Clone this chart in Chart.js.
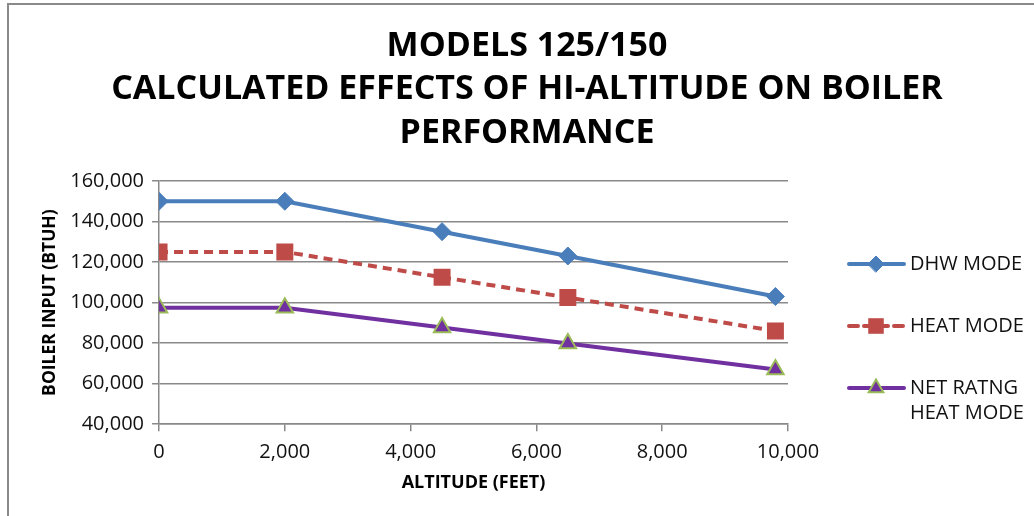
<!DOCTYPE html>
<html>
<head>
<meta charset="utf-8">
<title>Models 125/150 - boiler input vs altitude</title>
<script src="https://cdn.jsdelivr.net/npm/chart.js@4/dist/chart.umd.min.js"></script>
<style>
  html, body { margin: 0; padding: 0; background: #fff; }
  #wrap { width: 1034px; height: 516px; position: relative; }
</style>
</head>
<body>
<div id="wrap"><canvas id="altgraph" width="1034" height="516"></canvas></div>
<script>
// altitude in feet
var altitudeFt = [0, 2000, 4500, 6500, 9800];

// boiler input in BTUH
var dhwMode  = [150000, 150000, 135000, 123000, 103000];
var heatMode = [125000, 125000, 112500, 102500, 86000];
var netRatingHeatMode = [97500, 97500, 87750, 79800, 67000];

var seriesNames = [['DHW MODE'], ['HEAT MODE'], ['NET RATNG', 'HEAT MODE']];
var titleLines = ['MODELS 125/150', 'CALCULATED EFFECTS OF HI-ALTITUDE ON BOILER', 'PERFORMANCE'];

var yMin = 40000, yMax = 160000, yStep = 20000;
var xMin = 0, xMax = 10000, xStep = 2000;

var pts = function(ys) {
  return altitudeFt.map(function(x, i) { return { x: x, y: ys[i] }; });
};

var FONT = "'Open Sans', 'Liberation Sans', sans-serif";
var GRID = '#898989';

//grey frame on the left and top, like the worksheet object border
var framePlugin = {
  id: 'frame',
  beforeDraw: function(chart) {
    var ctx = chart.ctx;
    ctx.save();
    ctx.strokeStyle = '#8a8a8a';
    ctx.lineWidth = 2;
    ctx.beginPath();
    ctx.moveTo(8, chart.height);
    ctx.lineTo(8, 4);
    ctx.lineTo(chart.width, 4);
    ctx.stroke();
    ctx.restore();
  }
};

//title centred on the whole canvas, not just the plot box
var bigTitle = {
  id: 'bigTitle',
  afterDraw: function(chart) {
    var ctx = chart.ctx;
    ctx.save();
    ctx.fillStyle = '#000';
    ctx.font = 'bold 34px ' + FONT;
    ctx.textAlign = 'center';
    ctx.textBaseline = 'middle';
    titleLines.forEach(function(t, i) {
      ctx.fillText(t, 527, 46 + i * 43.5);
    });
    ctx.restore();
  }
};

//legend on the right, drawn by hand so the last entry can wrap
var sideLegend = {
  id: 'sideLegend',
  afterDraw: function(chart) {
    var ctx = chart.ctx;
    var rows = [264, 326, 388];
    ctx.save();
    chart.data.datasets.forEach(function(ds, i) {
      var y = rows[i];
      ctx.strokeStyle = ds.borderColor;
      ctx.lineWidth = ds.borderWidth;
      ctx.lineCap = 'round';
      ctx.setLineDash(ds.borderDash || []);
      ctx.beginPath();
      ctx.moveTo(849, y);
      ctx.lineTo(904, y);
      ctx.stroke();
      ctx.setLineDash([]);
      ctx.fillStyle = ds.pointBackgroundColor;
      ctx.strokeStyle = ds.pointBorderColor;
      ctx.lineWidth = ds.pointBorderWidth;
      Chart.helpers.drawPoint(ctx, {
        pointStyle: ds.pointStyle,
        radius: ds.pointRadius - 1,
        rotation: 0,
        borderWidth: ds.pointBorderWidth
      }, 876, y);
      ctx.fillStyle = '#111';
      ctx.font = '20px ' + FONT;
      ctx.textBaseline = 'middle';
      ctx.textAlign = 'left';
      seriesNames[i].forEach(function(t, k) {
        ctx.fillText(t, 910, y + k * 25);
      });
    });
    ctx.restore();
  }
};

var ctx = document.getElementById('altgraph').getContext('2d');
var altgraph = new Chart(ctx, {
  type: 'line',
  data: {
    datasets: [
      {
        label: seriesNames[0].join(' '),
        data: pts(dhwMode),
        borderColor: '#4a7ebb',
        borderWidth: 4,
        pointStyle: 'rectRot',
        pointRadius: 9,
        pointBackgroundColor: '#4a7ebb',
        pointBorderColor: '#4a7ebb',
        pointBorderWidth: 1,
        tension: 0
      },
      {
        label: seriesNames[1].join(' '),
        data: pts(heatMode),
        borderColor: '#be4b48',
        borderWidth: 4,
        borderDash: [9, 6],
        pointStyle: 'rect',
        pointRadius: 12,
        pointBackgroundColor: '#be4b48',
        pointBorderColor: '#be4b48',
        pointBorderWidth: 0,
        tension: 0
      },
      {
        label: seriesNames[2].join(' '),
        data: pts(netRatingHeatMode),
        borderColor: '#7030a0',
        borderWidth: 4,
        pointStyle: 'triangle',
        pointRadius: 9.5,
        pointBackgroundColor: '#7030a0',
        pointBorderColor: '#9bbb59',
        pointBorderWidth: 2,
        tension: 0
      }
    ]
  },
  options: {
    responsive: false,
    animation: false,
    events: [],
    layout: { padding: { left: 36, right: 246, top: 181, bottom: 19 } },
    plugins: {
      legend: { display: false },
      tooltip: { enabled: false },
      title: { display: false }
    },
    scales: {
      x: {
        type: 'linear',
        min: xMin,
        max: xMax,
        ticks: {
          stepSize: xStep,
          color: '#111',
          font: { family: FONT, size: 20, lineHeight: 1 },
          padding: 11,
          maxRotation: 0,
          callback: function(v) { return v.toLocaleString('en-US'); }
        },
        grid: { drawOnChartArea: false, drawTicks: true, tickLength: 7, color: GRID, lineWidth: 1.5 },
        border: { color: GRID, width: 1.5 },
        title: {
          display: true,
          text: 'ALTITUDE (FEET)',
          color: '#000',
          font: { family: FONT, size: 18, weight: 'bold', lineHeight: 1.1 },
          padding: { top: 0 }
        }
      },
      y: {
        min: yMin,
        max: yMax,
        ticks: {
          stepSize: yStep,
          color: '#111',
          font: { family: FONT, size: 20, lineHeight: 1 },
          padding: 8,
          callback: function(v) { return v.toLocaleString('en-US'); }
        },
        grid: { color: GRID, lineWidth: 1.5, tickLength: 7 },
        border: { color: GRID, width: 1.5 },
        title: {
          display: true,
          text: 'BOILER INPUT (BTUH)',
          color: '#000',
          font: { family: FONT, size: 17.5, weight: 'bold', lineHeight: 1.1 },
          padding: { bottom: 3 }
        }
      }
    }
  },
  plugins: [framePlugin, bigTitle, sideLegend]
});
</script>
</body>
</html>
